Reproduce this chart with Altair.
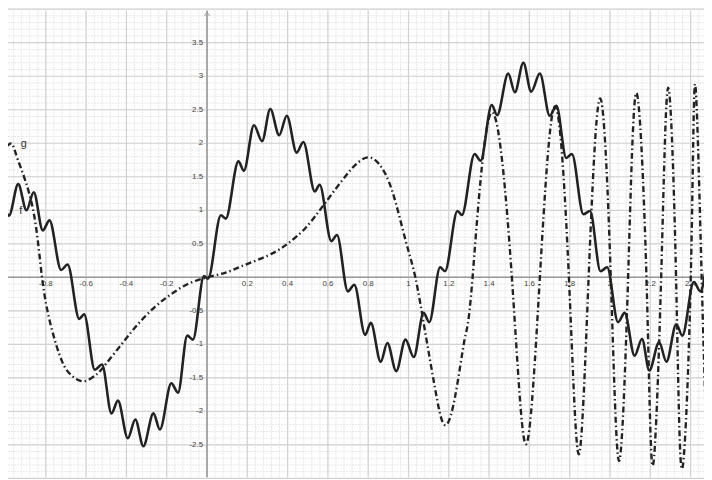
import altair as alt
import pandas as pd
import numpy as np

# ---- data ----
f_x = [-0.995, -0.983, -0.937, -0.896, -0.860, -0.815, -0.782, -0.724, -0.692, -0.634, -0.610,
       -0.557, -0.521, -0.474, -0.442, -0.393, -0.356, -0.316, -0.266, -0.234, -0.177, -0.144,
       -0.098, -0.070, -0.015, 0.005, 0.069, 0.093, 0.156, 0.183, 0.233, 0.273, 0.314, 0.358,
       0.396, 0.445, 0.478, 0.535, 0.559, 0.617, 0.645, 0.699, 0.731, 0.785, 0.813, 0.862,
       0.895, 0.939, 0.985, 1.026, 1.075, 1.103, 1.157, 1.181, 1.243, 1.265, 1.328, 1.358,
       1.413, 1.440, 1.495, 1.528, 1.570, 1.609, 1.652, 1.701, 1.734, 1.783, 1.811, 1.868,
       1.901, 1.953, 1.986, 2.040, 2.073, 2.122, 2.159, 2.195, 2.244, 2.280, 2.329, 2.359,
       2.416, 2.449, 2.475]
f_y = [0.97, 0.92, 1.39, 1.00, 1.27, 0.70, 0.85, 0.11, 0.19, -0.62, -0.55,
       -1.38, -1.30, -2.03, -1.84, -2.40, -2.12, -2.52, -2.03, -2.27, -1.58, -1.72,
       -0.87, -0.93, 0.02, -0.02, 0.925, 0.876, 1.73, 1.59, 2.27, 2.03, 2.51, 2.12,
       2.41, 1.86, 2.02, 1.28, 1.38, 0.54, 0.63, -0.21, -0.11, -0.86, -0.68, -1.26,
       -0.98, -1.40, -0.93, -1.19, -0.53, -0.67, 0.15, 0.09, 0.99, 0.93, 1.84, 1.74,
       2.57, 2.42, 3.04, 2.76, 3.20, 2.77, 3.04, 2.41, 2.56, 1.78, 1.84, 0.94,
       0.99, 0.09, 0.15, -0.67, -0.53, -1.17, -0.92, -1.39, -0.97, -1.26, -0.70, -0.87,
       -0.07, -0.21, 0.12]

g_x = [-0.995, -0.968, -0.937, -0.864, -0.819, -0.775, -0.720, -0.670, -0.610, -0.553,
       -0.520, -0.422, -0.340, -0.258, -0.177, -0.095, 0.0, 0.093, 0.175, 0.260, 0.339,
       0.404, 0.490, 0.584, 0.690, 0.745, 0.797, 0.854, 0.919, 0.985, 1.034, 1.083, 1.132,
       1.178, 1.230, 1.279, 1.318, 1.410, 1.513, 1.583, 1.652, 1.727, 1.796, 1.845, 1.894,
       1.951, 2.004, 2.045, 2.090, 2.131, 2.181, 2.212, 2.254, 2.289, 2.328, 2.357, 2.401,
       2.423, 2.455, 2.475]
g_y = [1.95, 1.99, 1.74, 1.02, 0.0, -0.72, -1.25, -1.47, -1.55, -1.46,
       -1.36, -0.99, -0.69, -0.44, -0.25, -0.10, 0.0, 0.07, 0.17, 0.27, 0.38,
       0.51, 0.74, 1.10, 1.52, 1.70, 1.79, 1.69, 1.29, 0.556, 0.0, -0.82, -1.66,
       -2.20, -1.80, -0.92, 0.0, 2.45, 0.0, -2.49, 0.0, 2.55, 0.0, -2.64, 0.0,
       2.67, 0.0, -2.74, 0.0, 2.75, 0.0, -2.81, 0.0, 2.83, 0.0, -2.86, 0.0,
       2.88, 0.0, -2.0]

x_tick_values = [-0.8, -0.6, -0.4, -0.2, 0.2, 0.4, 0.6, 0.8, 1.0, 1.2, 1.4, 1.6, 1.8, 2.0, 2.2, 2.4]
x_tick_labels = ["-0.8", "-0.6", "-0.4", "-0.2", "0.2", "0.4", "0.6", "0.8", "1", "1.2", "1.4",
                 "1.6", "1.8", "2", "2.2", "2.4"]
y_tick_values = [3.5, 3.0, 2.5, 2.0, 1.5, 1.0, 0.5, -0.5, -1.0, -1.5, -2.0, -2.5]
y_tick_labels = ["3.5", "3", "2.5", "2", "1.5", "1", "0.5", "-0.5", "-1", "-1.5", "-2", "-2.5"]

curve_names = ["f", "g"]
curve_label_x = [-0.932, -0.925]
curve_label_y = [0.99, 1.99]

# ---- layout ----
W, H = 704, 472
XD = [-0.9877, 2.4666]
YD = [-2.9838, 3.9779]
xs = alt.Scale(domain=XD, nice=False, zero=False)
ys = alt.Scale(domain=YD, nice=False, zero=False)

minor_x = pd.DataFrame({"v": np.round(np.arange(-1.0, 2.5, 0.04), 4)})
minor_y = pd.DataFrame({"v": np.round(np.arange(-3.0, 4.01, 0.1), 4)})
major_x = pd.DataFrame({"v": np.round(np.arange(-1.0, 2.5, 0.2), 4)})
major_y = pd.DataFrame({"v": np.round(np.arange(-3.0, 4.01, 0.5), 4)})
zero_df = pd.DataFrame({"v": [0.0]})

X = lambda f: alt.X(f, type="quantitative", scale=xs, axis=None)
Y = lambda f: alt.Y(f, type="quantitative", scale=ys, axis=None)

minor_v = alt.Chart(minor_x).mark_rule(color="#e6e6e6", strokeWidth=1, strokeDash=[2, 1]).encode(x=X("v"))
minor_h = alt.Chart(minor_y).mark_rule(color="#e6e6e6", strokeWidth=1, strokeDash=[2, 1]).encode(y=Y("v"))
major_v = alt.Chart(major_x).mark_rule(color="#d2d2d2", strokeWidth=1.2).encode(x=X("v"))
major_h = alt.Chart(major_y).mark_rule(color="#d2d2d2", strokeWidth=1.2).encode(y=Y("v"))
axis_x = alt.Chart(zero_df).mark_rule(color="#9a9a9a", strokeWidth=1.6).encode(y=Y("v"))
axis_y = alt.Chart(zero_df).mark_rule(color="#9a9a9a", strokeWidth=1.6).encode(x=X("v"))

arrow = alt.Chart(pd.DataFrame({"x": [0.0], "y": [3.93]})).mark_point(
    shape="M -1 0.7 L 0 -0.5 L 1 0.7", filled=False, color="#9a9a9a", size=30, strokeWidth=1.2
).encode(x=X("x"), y=Y("y"))

xt = pd.DataFrame({"x": x_tick_values, "y": [0.0] * len(x_tick_values), "t": x_tick_labels})
yt = pd.DataFrame({"x": [0.0] * len(y_tick_values), "y": y_tick_values, "t": y_tick_labels})

xlab = alt.Chart(xt).mark_text(fontSize=8, dy=7, baseline="middle", align="center",
                               color="#444444", font="Liberation Sans").encode(x=X("x"), y=Y("y"), text="t:N")
ylab = alt.Chart(yt).mark_text(fontSize=8, dx=-4, baseline="middle", align="right",
                               color="#444444", font="Liberation Sans").encode(x=X("x"), y=Y("y"), text="t:N")

fdf = pd.DataFrame({"x": f_x, "y": f_y})
gdf = pd.DataFrame({"x": g_x, "y": g_y})

g_line = alt.Chart(gdf).mark_line(interpolate="natural", color="#222222", strokeWidth=2.4,
                                  strokeDash=[6, 3, 1.5, 3], clip=True).encode(x=X("x"), y=Y("y"))
f_line = alt.Chart(fdf).mark_line(interpolate="monotone", color="#222222", strokeWidth=2.6,
                                  clip=True).encode(x=X("x"), y=Y("y"))

names = pd.DataFrame({"x": curve_label_x, "y": curve_label_y, "t": curve_names})
name_text = alt.Chart(names).mark_text(fontSize=11, align="left", baseline="middle",
                                       color="#333333", font="Liberation Sans").encode(
    x=X("x"), y=Y("y"), text="t:N")

chart = alt.layer(minor_v, minor_h, major_v, major_h, axis_x, axis_y, arrow,
                  xlab, ylab, g_line, f_line, name_text).properties(
    width=W, height=H, padding=0, autosize=alt.AutoSizeParams(type="none"),
    background="white"
).configure_view(stroke=None)

chart.save("out.html", embed_options={"renderer": "svg", "actions": False})
